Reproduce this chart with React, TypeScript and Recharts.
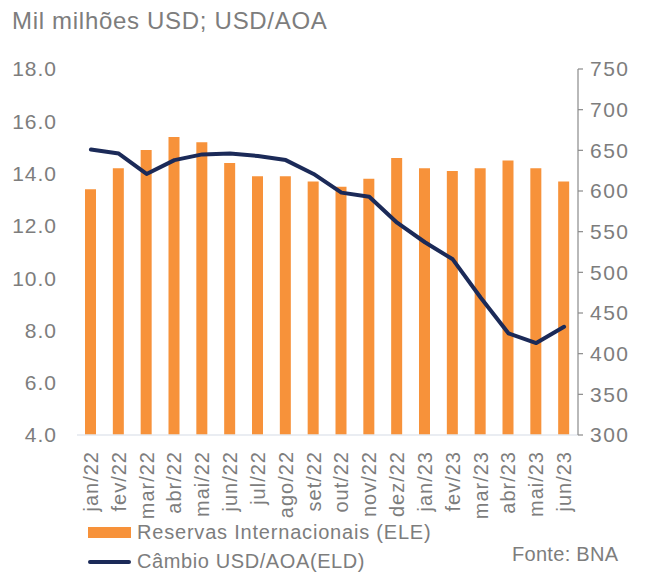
import React from 'react';
import { ComposedChart, Bar, Line, XAxis, YAxis } from 'recharts';

const months = ['jan/22', 'fev/22', 'mar/22', 'abr/22', 'mai/22', 'jun/22', 'jul/22', 'ago/22', 'set/22', 'out/22', 'nov/22', 'dez/22', 'jan/23', 'fev/23', 'mar/23', 'abr/23', 'mai/23', 'jun/23'];
const reserves = [13.4, 14.2, 14.9, 15.4, 15.2, 14.4, 13.9, 13.9, 13.7, 13.5, 13.8, 14.6, 14.2, 14.1, 14.2, 14.5, 14.2, 13.7];
const exchangeRate = [651, 646, 621, 638, 645, 646, 643, 638, 621, 598, 593, 561, 537, 516, 469, 425, 413, 433];
const leftTicks = [4, 6, 8, 10, 12, 14, 16, 18];
const rightTicks = [300, 350, 400, 450, 500, 550, 600, 650, 700, 750];

const data = months.map((m, i) => ({ month: m, reserves: reserves[i], fx: exchangeRate[i] }));

const GRAY = '#7d7d7d';
const ORANGE = '#F7923A';
const NAVY = '#1B2A58';
const FONT = '"Liberation Sans", Arial, sans-serif';

const XTick = (props: any) => {
  const { x, y, payload } = props;
  const tx = x + 7;
  return (
    <text x={tx} y={y} transform={`rotate(-90 ${tx} ${y})`} textAnchor="end" fill={GRAY} fontSize={20} letterSpacing={1} fontFamily={FONT}>
      {payload.value}
    </text>
  );
};

export default function App() {
  return (
    <div style={{ position: 'absolute', left: 0, top: 0, width: 652, height: 575, background: '#fff', fontFamily: FONT }}>
      <div style={{ position: 'absolute', left: 12, top: 7, fontSize: 24, color: GRAY, letterSpacing: 0.7, whiteSpace: 'nowrap' }}>
        Mil milhões USD; USD/AOA
      </div>
      <ComposedChart width={652} height={575} data={data} margin={{ top: 69, right: 0, left: 0, bottom: 0 }}>
        <XAxis
          dataKey="month"
          height={140}
          interval={0}
          tick={<XTick />}
          tickLine={false}
          tickSize={6}
          tickMargin={10}
          axisLine={{ stroke: '#e3e7ee', strokeWidth: 1.5 }}
        />
        <YAxis
          yAxisId="left"
          orientation="left"
          width={77}
          domain={[4, 18]}
          ticks={leftTicks}
          interval={0}
          allowDataOverflow
          tickFormatter={(v: number) => v.toFixed(1)}
          axisLine={false}
          tickLine={false}
          tickSize={6}
          tickMargin={14}
          tick={{ fill: GRAY, fontSize: 21, fontFamily: FONT, letterSpacing: 1 }}
        />
        <YAxis
          yAxisId="right"
          orientation="right"
          width={74}
          domain={[300, 750]}
          ticks={rightTicks}
          interval={0}
          axisLine={{ stroke: '#8a8a8a', strokeWidth: 1.2 }}
          tickLine={{ stroke: '#8a8a8a', strokeWidth: 1.2 }}
          tickSize={5}
          tickMargin={7}
          tick={{ fill: GRAY, fontSize: 21, fontFamily: FONT, letterSpacing: 1.5 }}
        />
        <Bar yAxisId="left" dataKey="reserves" fill={ORANGE} barSize={11} isAnimationActive={false} />
        <Line
          yAxisId="right"
          dataKey="fx"
          type="linear"
          stroke={NAVY}
          strokeWidth={4}
          dot={false}
          strokeLinejoin="round"
          strokeLinecap="round"
          isAnimationActive={false}
        />
      </ComposedChart>
      <div style={{ position: 'absolute', left: 88, top: 527, width: 43, height: 11, background: ORANGE }} />
      <div style={{ position: 'absolute', left: 137, top: 521, fontSize: 20, color: GRAY, whiteSpace: 'nowrap', letterSpacing: 0.8 }}>
        Reservas Internacionais (ELE)
      </div>
      <div style={{ position: 'absolute', left: 88, top: 560, width: 43, height: 4, background: NAVY, borderRadius: 2 }} />
      <div style={{ position: 'absolute', left: 137, top: 550, fontSize: 20, color: GRAY, whiteSpace: 'nowrap', letterSpacing: 0.6 }}>
        Câmbio USD/AOA(ELD)
      </div>
      <div style={{ position: 'absolute', left: 512, top: 543, fontSize: 20, color: GRAY, whiteSpace: 'nowrap', letterSpacing: 0.3 }}>
        Fonte: BNA
      </div>
    </div>
  );
}
